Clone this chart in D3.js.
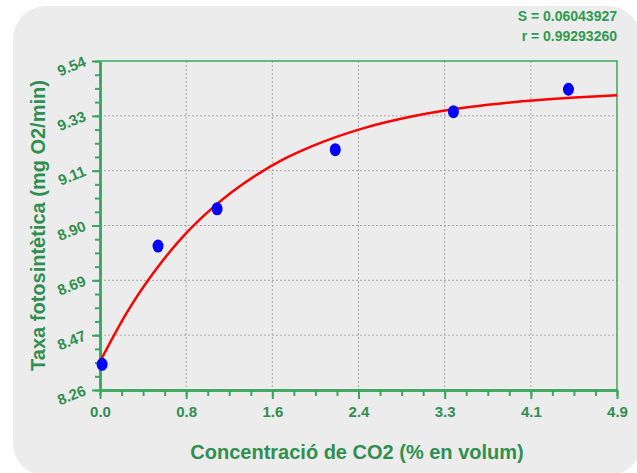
<!DOCTYPE html>
<meta charset="utf-8">
<style>
  body { margin: 0; background: #fff; }
  text { font-family: "Liberation Sans", Arial, sans-serif; font-weight: bold; }
  .tick-lab { fill: #2f8f50; font-size: 15px; }
  .title { fill: #2f8f50; font-size: 20px; text-anchor: middle; }
  .stat { fill: #2f9a50; font-size: 14px; text-anchor: end; }
  .grid line { stroke: #a8a8a8; stroke-dasharray: 2,2; stroke-width: 1; }
</style>
<body>
<script src="https://cdn.jsdelivr.net/npm/d3@7"></script>
<script>

var width = 637,
    height = 473;

// measured points
var co2 = [0.02, 0.55, 1.11, 2.23, 3.35, 4.44];
var taxa = [8.36, 8.82, 8.965, 9.195, 9.343, 9.43];

// fitted curve
var fitX = [0, 0.25, 0.5, 0.75, 1.0, 1.25, 1.5, 1.75, 2.0, 2.5, 3.0, 3.5, 4.0, 4.5, 4.9];
var fitY = [8.37, 8.558, 8.712, 8.84, 8.944, 9.03, 9.101, 9.16, 9.207, 9.279, 9.328, 9.361, 9.383, 9.398, 9.407];

var xTickLabels = ["0.0", "0.8", "1.6", "2.4", "3.3", "4.1", "4.9"];
var yTickLabels = ["8.26", "8.47", "8.69", "8.90", "9.11", "9.33", "9.54"];

var stats = ["S = 0.06043927", "r = 0.99293260"];

var margin = {left: 100, top: 61, right: 20, bottom: 83};
var pw = width - margin.left - margin.right,
    ph = height - margin.top - margin.bottom;

var green = "#3aa85c";

var svg = d3.select("body").append("svg")
    .attr("width", width)
    .attr("height", height);

// rounded grey panel
svg.append("rect")
    .attr("x", 13).attr("y", 6)
    .attr("width", 628).attr("height", 470)
    .attr("rx", 33).attr("ry", 33)
    .attr("fill", "#ececec");

var x = d3.scaleLinear().domain([0, 4.9]).range([0, pw]);
var y = d3.scaleLinear().domain([8.26, 9.54]).range([ph, 0]);

var xMajor = d3.range(7).map(function(i) { return 4.9 * i / 6; });
var yMajor = d3.range(7).map(function(i) { return 8.26 + 1.28 * i / 6; });
var xMinor = d3.range(25).map(function(i) { return 4.9 * i / 24; });
var yMinor = d3.range(25).map(function(i) { return 8.26 + 1.28 * i / 24; });

var g = svg.append("g")
    .attr("transform", "translate(" + margin.left + "," + margin.top + ")");

// grid
g.append("g").attr("class", "grid")
  .selectAll("line.gx").data(xMajor.slice(1, 6))
  .enter().append("line")
    .attr("x1", x).attr("x2", x)
    .attr("y1", 0).attr("y2", ph);
g.append("g").attr("class", "grid")
  .selectAll("line.gy").data(yMajor.slice(1, 6))
  .enter().append("line")
    .attr("y1", y).attr("y2", y)
    .attr("x1", 0).attr("x2", pw);

// top / right frame
g.append("path")
    .attr("d", "M0,0H" + pw + "V" + ph)
    .attr("fill", "none")
    .attr("stroke", green)
    .attr("stroke-width", 1.5);

// minor ticks
var xMin = g.append("g").attr("transform", "translate(0," + ph + ")")
    .call(d3.axisBottom(x).tickValues(xMinor).tickSize(6).tickFormat("").tickSizeOuter(0));
var yMin = g.append("g")
    .call(d3.axisLeft(y).tickValues(yMinor).tickSize(5).tickFormat("").tickSizeOuter(0));

// major ticks + labels
var xAx = g.append("g").attr("transform", "translate(0," + ph + ")")
    .call(d3.axisBottom(x).tickValues(xMajor).tickSize(9).tickSizeOuter(0)
      .tickFormat(function(d, i) { return xTickLabels[i]; }));
var yAx = g.append("g")
    .call(d3.axisLeft(y).tickValues(yMajor).tickSize(8).tickSizeOuter(0)
      .tickFormat(function(d, i) { return yTickLabels[i]; }));

[xMin, yMin, xAx, yAx].forEach(function(a) {
  a.selectAll("path, line").attr("stroke", green).attr("stroke-width", 2);
  a.select(".domain").attr("stroke-width", 2.5);
});

xAx.selectAll("text")
    .attr("class", "tick-lab")
    .attr("font-size", null).attr("font-family", null)
    .attr("y", 16);

yAx.selectAll("text")
    .attr("class", "tick-lab")
    .attr("font-size", null).attr("font-family", null)
    .attr("x", null).attr("dy", null)
    .attr("text-anchor", "end")
    .attr("transform", "translate(-13,4) rotate(-22)");

// fit curve
var line = d3.line()
    .x(function(d, i) { return x(fitX[i]); })
    .y(function(d) { return y(d); })
    .curve(d3.curveMonotoneX);

g.append("path")
    .datum(fitY)
    .attr("d", line)
    .attr("fill", "none")
    .attr("stroke", "#ff0000")
    .attr("stroke-width", 2.5);

// points
g.selectAll("ellipse.pt")
    .data(taxa)
  .enter().append("ellipse")
    .attr("class", "pt")
    .attr("cx", function(d, i) { return x(co2[i]); })
    .attr("cy", function(d) { return y(d); })
    .attr("rx", 5.5).attr("ry", 6.5)
    .attr("fill", "#0000ff");

// titles
svg.append("text")
    .attr("class", "title")
    .attr("x", 357).attr("y", 459)
    .text("Concentració de CO2 (% en volum)");

svg.append("text")
    .attr("class", "title")
    .attr("transform", "translate(45," + (margin.top + ph / 2) + ") rotate(-90)")
    .text("Taxa fotosintètica (mg O2/min)");

svg.selectAll("text.stat")
    .data(stats)
  .enter().append("text")
    .attr("class", "stat")
    .attr("x", margin.left + pw)
    .attr("y", function(d, i) { return 21 + i * 20; })
    .text(function(d) { return d; });

</script>
